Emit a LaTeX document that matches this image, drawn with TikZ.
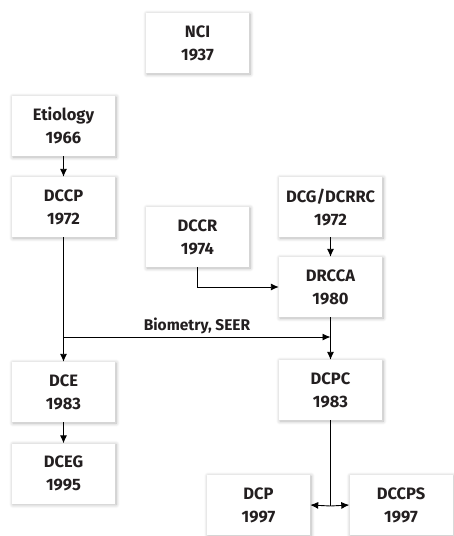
\documentclass[tikz,border=0pt]{standalone}
\usepackage{fontspec}
\setmainfont{Fira Sans}
\usetikzlibrary{shadows,shadows.blur}
\usetikzlibrary{arrows.meta,shapes}
\usetikzlibrary{calc}
\definecolor{inkgray}{HTML}{231F20}
\tikzstyle{unit}=[rectangle,fill=white,minimum width=103pt,minimum height=60pt,inner sep=0pt,align=center,text=inkgray,font=\fontsize{16.5}{23}\selectfont\bfseries,blur shadow={shadow blur steps=8,shadow blur radius=4pt,shadow xshift=1pt,shadow yshift=-1pt,shadow opacity=30}]
\tikzstyle{edge} = [draw,line width=0.9pt,-{Latex[length=8pt,width=7pt]}]
\tikzstyle{weight} = [font=\fontsize{15.5}{18}\selectfont\bfseries,text=inkgray]

\begin{document}
\begin{tikzpicture}[x=1pt,y=-1pt]
\useasboundingbox (0,0) rectangle (453,536);

    % the offices, left to right and top down
    \foreach \pos/\name/\label in {{(197.5,43)/NCI/{NCI\\1937}}, {(63.5,126)/Etio/{Etiology\\1966}}, {(63.5,207)/DCCP/{DCCP\\1972}}, {(197.5,237)/DCCR/{DCCR\\1974}}, {(330.5,207)/DCG/{DCG/DCRRC\\1972}}, {(330.5,287)/DRCCA/{DRCCA\\1980}}, {(63.5,392)/DCE/{DCE\\1983}}, {(63.5,473.5)/DCEG/{DCEG\\1995}}, {(330.5,390)/DCPC/{DCPC\\1983}}, {(258.5,505)/DCP/{DCP\\1997}}, {(401,505)/DCCPS/{DCCPS\\1997}}}
        \node[unit] (\name) at \pos {\label};

    \coordinate (bioL) at (63.5,337);
    \coordinate (bioR) at (330.5,337);
    \coordinate (split) at (330.5,506);

    % straight links
    \foreach \source/ \dest in {Etio/DCCP, DCG/DRCCA, DCCP/DCE, DRCCA/DCPC, DCE/DCEG}
          \path[edge] (\source) -- (\dest);

    \path[edge] (DCCR.south) |- (DRCCA.west);
    \path[edge] (bioL) -- node[weight,above=-1pt] {Biometry, SEER} (bioR);

    % split into two
    \draw[line width=0.9pt] (DCPC.south) -- (split);
    \foreach \dest in {DCP.east, DCCPS.west}
          \path[edge] (split) -- (\dest);

\end{tikzpicture}
\end{document}
